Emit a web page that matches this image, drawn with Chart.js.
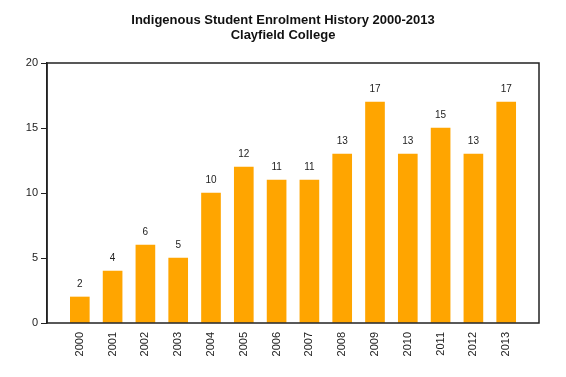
<!DOCTYPE html>
<html>
<head>
<meta charset="utf-8">
<script src="https://cdn.jsdelivr.net/npm/chart.js@4/dist/chart.umd.min.js"></script>
<style>
html,body{margin:0;padding:0;background:#fff;}
#wrap{width:566px;height:377px;position:relative;}
</style>
</head>
<body>
<div id="wrap"><canvas id="c" width="566" height="377"></canvas></div>
<script>
const titleLines = ['Indigenous Student Enrolment History 2000-2013', 'Clayfield College'];
const years = ['2000','2001','2002','2003','2004','2005','2006','2007','2008','2009','2010','2011','2012','2013'];
const enrolments = [2, 4, 6, 5, 10, 12, 11, 11, 13, 17, 13, 15, 13, 17];
const yTicks = [0, 5, 10, 15, 20];

const labels = [''].concat(years, ['']);
const data = [null].concat(enrolments, [null]);

const FONT = '"Liberation Sans", Arial, sans-serif';

const titlePlugin = {
  id: 'titleP',
  afterDraw(chart) {
    const ctx = chart.ctx;
    ctx.save();
    ctx.fillStyle = '#111';
    ctx.font = 'bold 13px ' + FONT;
    ctx.textAlign = 'center';
    ctx.textBaseline = 'alphabetic';
    ctx.fillText(titleLines[0], 283, 24);
    ctx.fillText(titleLines[1], 283, 39);
    ctx.restore();
  }
};

const boxPlugin = {
  id: 'boxP',
  afterDraw(chart) {
    const a = chart.chartArea, ctx = chart.ctx;
    ctx.save();
    ctx.strokeStyle = '#222';
    ctx.lineWidth = 1.5;
    ctx.strokeRect(a.left, a.top, a.right - a.left, a.bottom - a.top);
    ctx.restore();
  }
};

const valuePlugin = {
  id: 'valP',
  afterDatasetsDraw(chart) {
    const ctx = chart.ctx;
    const meta = chart.getDatasetMeta(0);
    ctx.save();
    ctx.fillStyle = '#222';
    ctx.font = '10px ' + FONT;
    ctx.textAlign = 'center';
    ctx.textBaseline = 'middle';
    meta.data.forEach((el, i) => {
      const v = chart.data.datasets[0].data[i];
      if (v === null || v === undefined) return;
      ctx.fillText(String(v), el.x, el.y - 13);
    });
    ctx.restore();
  }
};

new Chart(document.getElementById('c'), {
  type: 'bar',
  data: {
    labels: labels,
    datasets: [{
      data: data,
      backgroundColor: '#FFA500',
      borderWidth: 0,
      barThickness: 19
    }]
  },
  options: {
    responsive: false,
    animation: false,
    layout: { padding: { left: 0, right: 27, top: 63, bottom: 0 } },
    plugins: { legend: { display: false }, title: { display: false }, tooltip: { enabled: false } },
    scales: {
      x: {
        offset: false,
        grid: { display: false, drawTicks: false },
        border: { display: false },
        ticks: {
          autoSkip: false,
          minRotation: 90,
          maxRotation: 90,
          padding: 9,
          color: '#222',
          font: { family: FONT, size: 11 }
        },
        afterFit(s) { s.height = 54; }
      },
      y: {
        min: 0,
        max: 20,
        afterBuildTicks(s) { s.ticks = yTicks.map(v => ({ value: v })); },
        grid: { display: true, drawOnChartArea: false, drawTicks: true, tickLength: 6, color: '#222', lineWidth: 1 },
        border: { display: true, color: '#222', width: 1.5 },
        ticks: {
          padding: 3,
          color: '#222',
          font: { family: FONT, size: 11 }
        },
        afterFit(s) { s.width = 47; }
      }
    }
  },
  plugins: [titlePlugin, boxPlugin, valuePlugin]
});
</script>
</body>
</html>
